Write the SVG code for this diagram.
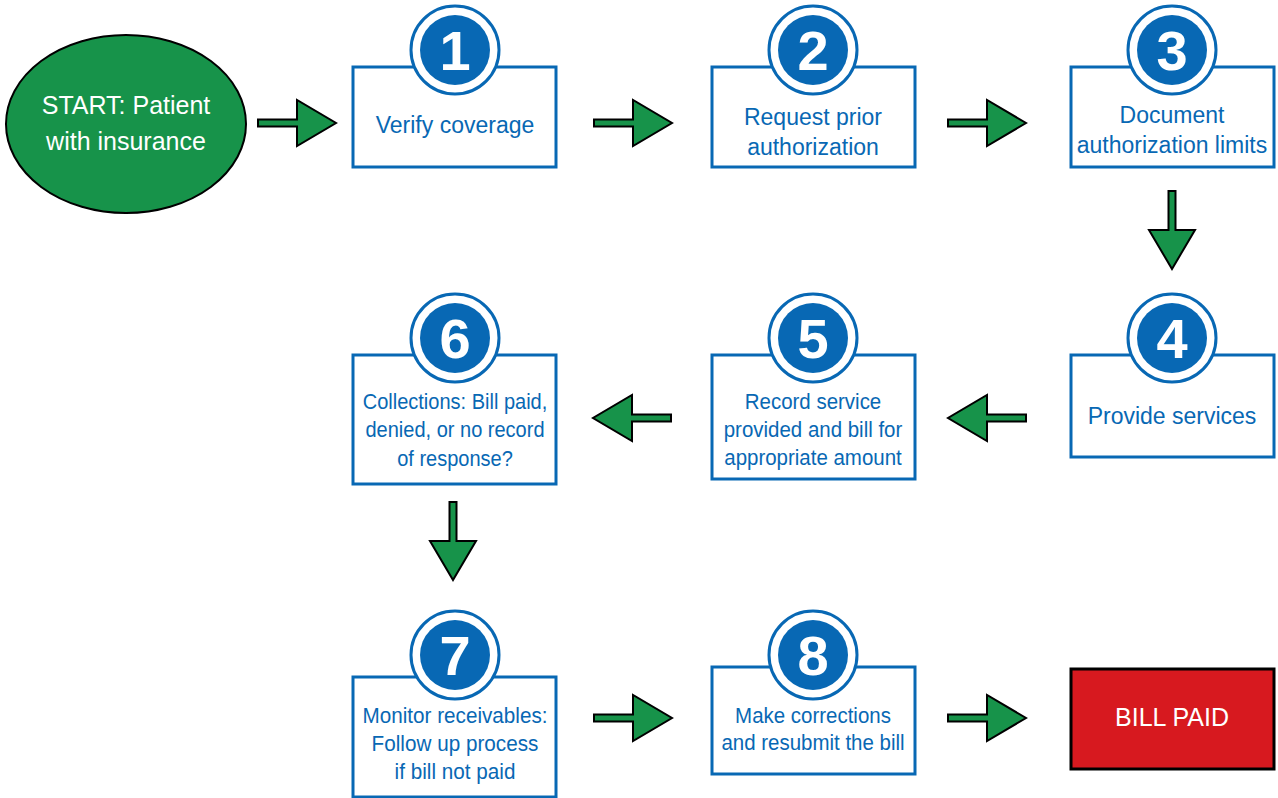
<svg xmlns="http://www.w3.org/2000/svg" width="1278" height="798" viewBox="0 0 1278 798">
<style>
.box{fill:#fff;stroke:#0868B4;stroke-width:3}
.ring{fill:#fff;stroke:#0868B4;stroke-width:3}
.dot{fill:#0868B4}
.num{font-family:"Liberation Sans",Arial,sans-serif;font-weight:bold;font-size:56px;fill:#fff;text-anchor:middle}
.t{font-family:"Liberation Sans",Arial,sans-serif;font-size:23px;fill:#0868B4;text-anchor:middle}
.t2{font-family:"Liberation Sans",Arial,sans-serif;font-size:22.5px;fill:#0868B4;text-anchor:middle}
.w{font-family:"Liberation Sans",Arial,sans-serif;font-size:25px;fill:#fff;text-anchor:middle}
.arr{fill:#17934A;stroke:#000;stroke-width:2;stroke-linejoin:miter}
</style>
<defs>
<path id="ar" class="arr" d="M0,-3.5 H39 V-23 L78,0 L39,23 V3.5 H0 Z"/>
</defs>
<rect width="1278" height="798" fill="#fff"/>
<g id="connectors">
<use href="#ar" transform="translate(258,123)"/>
<use href="#ar" transform="translate(594,123)"/>
<use href="#ar" transform="translate(948,123)"/>
<use href="#ar" transform="translate(1172,191) rotate(90)"/>
<use href="#ar" transform="translate(1026,418) rotate(180)"/>
<use href="#ar" transform="translate(671,418) rotate(180)"/>
<use href="#ar" transform="translate(453,502) rotate(90)"/>
<use href="#ar" transform="translate(594,718)"/>
<use href="#ar" transform="translate(948,718)"/>
</g>
<g id="start">
<ellipse cx="126" cy="124" rx="120" ry="89" fill="#17934A" stroke="#000" stroke-width="2"/>
<text class="w" x="126" y="114">START: Patient</text>
<text class="w" x="126" y="150">with insurance</text>
</g>
<g id="step1">
<rect class="box" x="353" y="67" width="203" height="100"/>
<circle class="ring" cx="455" cy="50" r="44"/>
<circle class="dot" cx="455" cy="50" r="35"/>
<text class="num" x="455" y="70">1</text>
<text class="t" x="455" y="133">Verify coverage</text>
</g>
<g id="step2">
<rect class="box" x="712" y="67" width="203" height="100"/>
<circle class="ring" cx="813" cy="50" r="44"/>
<circle class="dot" cx="813" cy="50" r="35"/>
<text class="num" x="813" y="70">2</text>
<text class="t" x="813" y="125">Request prior</text>
<text class="t" x="813" y="155">authorization</text>
</g>
<g id="step3">
<rect class="box" x="1071" y="67" width="203" height="100"/>
<circle class="ring" cx="1172" cy="50" r="44"/>
<circle class="dot" cx="1172" cy="50" r="35"/>
<text class="num" x="1172" y="70">3</text>
<text class="t" x="1172" y="123">Document</text>
<text class="t" x="1172" y="153">authorization limits</text>
</g>
<g id="step4">
<rect class="box" x="1071" y="355" width="203" height="102"/>
<circle class="ring" cx="1172" cy="338" r="44"/>
<circle class="dot" cx="1172" cy="338" r="35"/>
<text class="num" x="1172" y="358">4</text>
<text class="t" x="1172" y="424">Provide services</text>
</g>
<g id="step5">
<rect class="box" x="712" y="355" width="203" height="124"/>
<circle class="ring" cx="813" cy="338" r="44"/>
<circle class="dot" cx="813" cy="338" r="35"/>
<text class="num" x="813" y="358">5</text>
<g transform="translate(813,0) scale(0.91,1)">
<text class="t2" x="0" y="409">Record service</text>
<text class="t2" x="0" y="437">provided and bill for</text>
<text class="t2" x="0" y="465">appropriate amount</text>
</g>
</g>
<g id="step6">
<rect class="box" x="353" y="355" width="203" height="129"/>
<circle class="ring" cx="455" cy="338" r="44"/>
<circle class="dot" cx="455" cy="338" r="35"/>
<text class="num" x="455" y="358">6</text>
<g transform="translate(455,0) scale(0.89,1)">
<text class="t2" x="0" y="409">Collections: Bill paid,</text>
<text class="t2" x="0" y="437">denied, or no record</text>
<text class="t2" x="0" y="466">of response?</text>
</g>
</g>
<g id="step7">
<rect class="box" x="353" y="677" width="203" height="120"/>
<circle class="ring" cx="455" cy="655" r="44"/>
<circle class="dot" cx="455" cy="655" r="35"/>
<text class="num" x="455" y="675">7</text>
<g transform="translate(455,0) scale(0.92,1)">
<text class="t2" x="0" y="723">Monitor receivables:</text>
<text class="t2" x="0" y="751">Follow up process</text>
<text class="t2" x="0" y="779">if bill not paid</text>
</g>
</g>
<g id="step8">
<rect class="box" x="712" y="667" width="203" height="107"/>
<circle class="ring" cx="813" cy="655" r="44"/>
<circle class="dot" cx="813" cy="655" r="35"/>
<text class="num" x="813" y="675">8</text>
<g transform="translate(813,0) scale(0.91,1)">
<text class="t2" x="0" y="723">Make corrections</text>
<text class="t2" x="0" y="750">and resubmit the bill</text>
</g>
</g>
<g id="billpaid">
<rect x="1071" y="669" width="203" height="100" fill="#D7191F" stroke="#000" stroke-width="3"/>
<text class="w" x="1172" y="726">BILL PAID</text>
</g>
</svg>
